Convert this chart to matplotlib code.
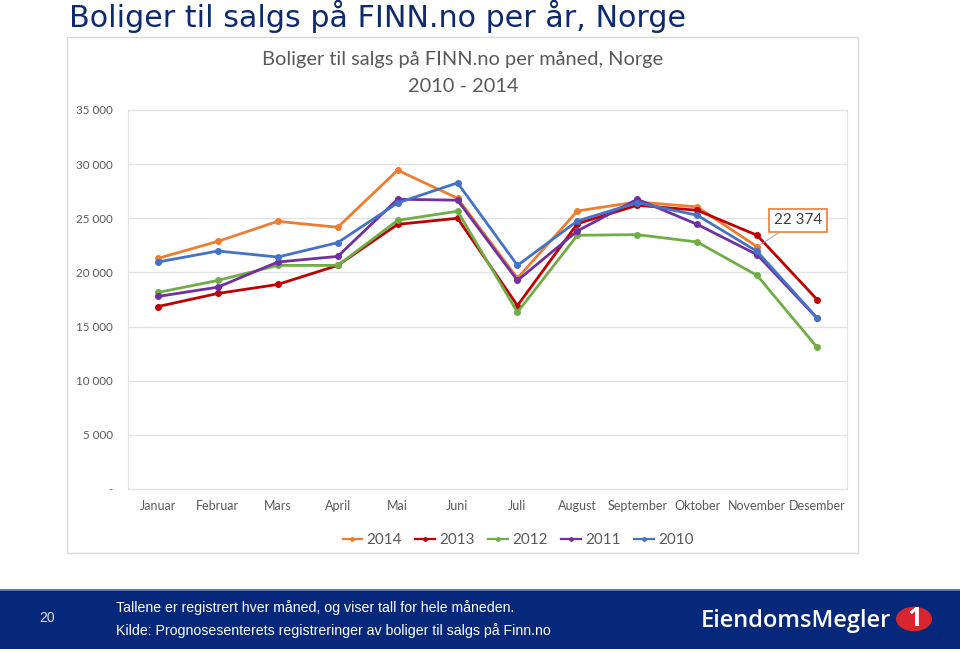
import matplotlib
matplotlib.use("Agg")
import matplotlib.pyplot as plt
from matplotlib.patches import Rectangle, Circle
from matplotlib.ticker import FixedLocator, FuncFormatter

months = ["Januar", "Februar", "Mars", "April", "Mai", "Juni", "Juli",
          "August", "September", "Oktober", "November", "Desember"]

y2014 = [21300, 22870, 24720, 24170, 29440, 26850, 19470, 25680, 26510, 26050, 22374]
y2013 = [16850, 18060, 18890, 20650, 24440, 25000, 16940, 24500, 26200, 25740, 23430, 17500]
y2012 = [18150, 19260, 20650, 20650, 24810, 25650, 16330, 23430, 23490, 22810, 19720, 13090]
y2011 = [17780, 18640, 20960, 21480, 26760, 26670, 19260, 23830, 26760, 24440, 21640, 15770]
y2010 = [20960, 21980, 21420, 22750, 26420, 28270, 20650, 24750, 26450, 25280, 21940, 15800]

series = [("2014", y2014, "#ED7D31"),
          ("2013", y2013, "#C00000"),
          ("2012", y2012, "#70AD47"),
          ("2011", y2011, "#7030A0"),
          ("2010", y2010, "#4472C4")]

W, H = 960, 653
fig = plt.figure(figsize=(W / 100, H / 100), dpi=100)

def fx(px):
    return px / W

def fy(py):
    return 1 - py / H

# slide title
fig.text(fx(69), fy(16), "Boliger til salgs på FINN.no per år, Norge",
         family="DejaVu Sans", fontsize=21.7, color="#0E2A6E", va="center", ha="left")

# chart frame
fig.patches.append(Rectangle((fx(67), fy(553)), fx(858) - fx(67), fy(37) - fy(553),
                             transform=fig.transFigure, fill=False, edgecolor="#d9d9d9", lw=1))

gray = "#595959"
cfont = "Lato"
fig.text(fx(463), fy(60), "Boliger til salgs på FINN.no per måned, Norge",
         family=cfont, fontsize=14.4, color=gray, ha="center", va="center")
fig.text(fx(463), fy(86), "2010 - 2014",
         family=cfont, fontsize=14.4, color=gray, ha="center", va="center")

ax = fig.add_axes([fx(128), fy(489), fx(847) - fx(128), fy(110) - fy(489)])
x = list(range(len(months)))
for name, vals, col in series:
    ax.plot(x[:len(vals)], vals, color=col, lw=2, marker="o", ms=4, label=name)

ax.set_xlim(-0.5, 11.5)
ax.set_ylim(0, 35000)
ax.yaxis.set_major_locator(FixedLocator(range(0, 35001, 5000)))
ax.yaxis.set_major_formatter(FuncFormatter(
    lambda v, p: "-" if v == 0 else "{:,.0f}".format(v).replace(",", " ")))
ax.set_xticks(x)
ax.set_xticklabels(months)
ax.grid(axis="y", color="#e3e3e3", lw=1)
ax.set_axisbelow(True)
for s in ax.spines.values():
    s.set_color("#e3e3e3")
ax.tick_params(length=0, labelsize=9, labelcolor=gray, pad=8)
ax.tick_params(axis="y", labelsize=8.4, pad=11)
for lab in ax.get_xticklabels() + ax.get_yticklabels():
    lab.set_family(cfont)

ax.annotate("22 374", xy=(10, 22374), xytext=(10.68, 24800),
            family=cfont, fontsize=11, color="#404040", ha="center", va="center",
            bbox=dict(boxstyle="square,pad=0.3", fc="white", ec="#ED7D31", lw=1.2),
            arrowprops=dict(arrowstyle="-", color="#a6a6a6", lw=0.7, shrinkA=0, shrinkB=2))

leg = fig.legend(loc="center", bbox_to_anchor=(fx(518), fy(540)), ncol=5, frameon=False,
                 prop={"family": cfont, "size": 11}, handlelength=1.3, columnspacing=0.9,
                 handletextpad=0.25, markerscale=0.6)
for t in leg.get_texts():
    t.set_color(gray)
for ln in leg.get_lines():
    ln.set_linewidth(1.6)

# footer banner
fig.patches.append(Rectangle((0, fy(649)), 1, fy(590) - fy(649),
                             transform=fig.transFigure, facecolor="#06287A", edgecolor="none"))
fig.patches.append(Rectangle((0, fy(591)), 1, fy(589) - fy(591),
                             transform=fig.transFigure, facecolor="#5d78b8", edgecolor="none"))
fig.text(fx(47), fy(618), "20", family="Liberation Sans", fontsize=10,
         color="#dde3f0", ha="center", va="center")
ffont = "Liberation Sans"
fig.text(fx(116), fy(608), "Tallene er registrert hver måned, og viser tall for hele måneden.",
         family=ffont, fontsize=10.2, color="white", va="center")
fig.text(fx(116), fy(631), "Kilde: Prognosesenterets registreringer av boliger til salgs på Finn.no",
         family=ffont, fontsize=10.2, color="white", va="center")

# logo
fig.text(fx(796), fy(621), "EiendomsMegler", family="Open Sans", fontsize=17,
         color="white", weight="semibold", ha="center", va="center")
fig.patches.append(Circle((fx(914), fy(619)), 18 / W, transform=fig.transFigure,
                          facecolor="#D7262E", edgecolor="none"))
fig.text(fx(915), fy(619), "1", family="Open Sans", fontsize=19, weight="bold",
         color="white", ha="center", va="center")

fig.savefig("out.png", dpi=100)
